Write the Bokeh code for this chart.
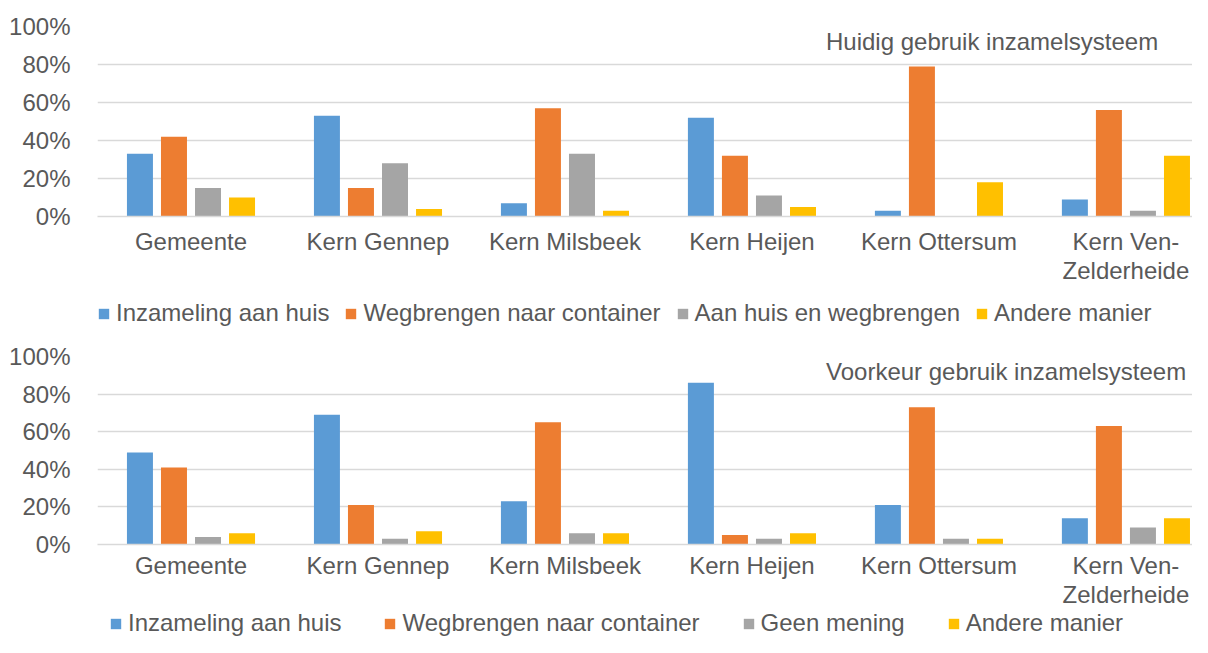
from bokeh.plotting import figure
from bokeh.models import (ColumnDataSource, Range1d, FixedTicker, NumeralTickFormatter,
                          Legend, LegendItem, Label)
from bokeh.transform import dodge
from bokeh.layouts import column
from bokeh.embed import file_html
from bokeh.resources import INLINE

categories = ["Gemeente", "Kern Gennep", "Kern Milsbeek", "Kern Heijen",
              "Kern Ottersum", "Kern Ven-\nZelderheide"]

huidig_aan_huis = [0.33, 0.53, 0.07, 0.52, 0.03, 0.09]
huidig_wegbrengen = [0.42, 0.15, 0.57, 0.32, 0.79, 0.56]
huidig_beide = [0.15, 0.28, 0.33, 0.11, 0.00, 0.03]
huidig_anders = [0.10, 0.04, 0.03, 0.05, 0.18, 0.32]

voorkeur_aan_huis = [0.49, 0.69, 0.23, 0.86, 0.21, 0.14]
voorkeur_wegbrengen = [0.41, 0.21, 0.65, 0.05, 0.73, 0.63]
voorkeur_geen = [0.04, 0.03, 0.06, 0.03, 0.03, 0.09]
voorkeur_anders = [0.06, 0.07, 0.06, 0.06, 0.03, 0.14]

huidig_labels = ["Inzameling aan huis", "Wegbrengen naar container",
                 "Aan huis en wegbrengen", "Andere manier"]
voorkeur_labels = ["Inzameling aan huis", "Wegbrengen naar container",
                   "Geen mening", "Andere manier"]
y_ticks = [0, 0.2, 0.4, 0.6, 0.8, 1.0]

colors = ["#5B9BD5", "#ED7D31", "#A5A5A5", "#FFC000"]
FONT = "Liberation Sans"
TXT = "#595959"
GRID = "#D9D9D9"
FS = "24px"
W = 1192


def make_chart(title, values, height, top, frame_h, standoff):
    x_pos = [i + 0.5 for i in range(len(categories))]
    data = dict(x=x_pos)
    for k, v in enumerate(values):
        data[f"s{k}"] = v
    src = ColumnDataSource(data)
    p = figure(width=W, height=height, output_backend="svg", toolbar_location=None,
               x_range=Range1d(0, 5.856), y_range=Range1d(0, 1),
               min_border_left=97, min_border_right=0, min_border_top=top,
               min_border_bottom=height - top - frame_h)
    p.outline_line_color = None
    offsets = [-0.273, -0.091, 0.091, 0.273]
    for k in range(4):
        p.vbar(x=dodge("x", offsets[k], range=p.x_range), top=f"s{k}", width=0.139,
               source=src, fill_color=colors[k], line_color=None)

    p.xgrid.visible = False
    p.ygrid.ticker = FixedTicker(ticks=y_ticks)
    p.ygrid.grid_line_color = GRID
    p.ygrid.grid_line_width = 1.3

    p.yaxis.ticker = FixedTicker(ticks=y_ticks)
    p.yaxis.formatter = NumeralTickFormatter(format="0%")
    p.yaxis.axis_line_color = None
    p.yaxis.major_tick_line_color = None
    p.yaxis.minor_tick_line_color = None
    p.yaxis.major_label_standoff = 21
    p.yaxis.major_label_text_font = FONT
    p.yaxis.major_label_text_font_size = FS
    p.yaxis.major_label_text_color = TXT

    p.xaxis.ticker = FixedTicker(ticks=x_pos)
    p.xaxis.major_label_overrides = {x: c for x, c in zip(x_pos, categories)}
    p.xaxis.axis_line_color = GRID
    p.xaxis.axis_line_width = 1.3
    p.xaxis.major_tick_line_color = None
    p.xaxis.minor_tick_line_color = None
    p.xaxis.major_label_standoff = standoff
    p.xaxis.major_label_text_font = FONT
    p.xaxis.major_label_text_font_size = FS
    p.xaxis.major_label_text_color = TXT
    p.xaxis.major_label_text_line_height = 1.09

    p.add_layout(Label(x=3.896, y=0.92, text=title, text_font=FONT, text_font_size=FS,
                       text_color=TXT, text_baseline="middle", text_align="left"))
    return p


def make_legend(labels, height, loc, spacing):
    # legend-only strip; its swatch renderers sit outside the visible range
    p = figure(width=W, height=height, output_backend="svg", toolbar_location=None,
               x_range=Range1d(0, 1), y_range=Range1d(0, 1),
               x_axis_location=None, y_axis_location=None,
               min_border_left=97, min_border_right=0,
               min_border_top=0, min_border_bottom=0)
    p.outline_line_color = None
    p.grid.visible = False
    items = []
    for k in range(4):
        r = p.quad(left=[-5], right=[-4], bottom=[-5], top=[-4],
                   fill_color=colors[k], line_color=None)
        items.append(LegendItem(label=labels[k], renderers=[r]))
    legend = Legend(items=items, orientation="horizontal", location=loc,
                    spacing=spacing, padding=0, margin=0, glyph_width=13, glyph_height=13,
                    label_standoff=6, label_height=20,
                    label_text_font=FONT, label_text_font_size=FS, label_text_color=TXT,
                    border_line_color=None, background_fill_alpha=0)
    p.add_layout(legend, "center")
    return p


p1 = make_chart("Huidig gebruik inzamelsysteem",
                [huidig_aan_huis, huidig_wegbrengen, huidig_beide, huidig_anders],
                296, 26, 190, 5)
l1 = make_legend(huidig_labels, 34, (0, 3), 15)
p2 = make_chart("Voorkeur gebruik inzamelsysteem",
                [voorkeur_aan_huis, voorkeur_wegbrengen, voorkeur_geen, voorkeur_anders],
                280, 26, 189, 1)
l2 = make_legend(voorkeur_labels, 27, (12, 0), 42)

layout = column(p1, l1, p2, l2)
open("out.html", "w").write(file_html(layout, INLINE))
